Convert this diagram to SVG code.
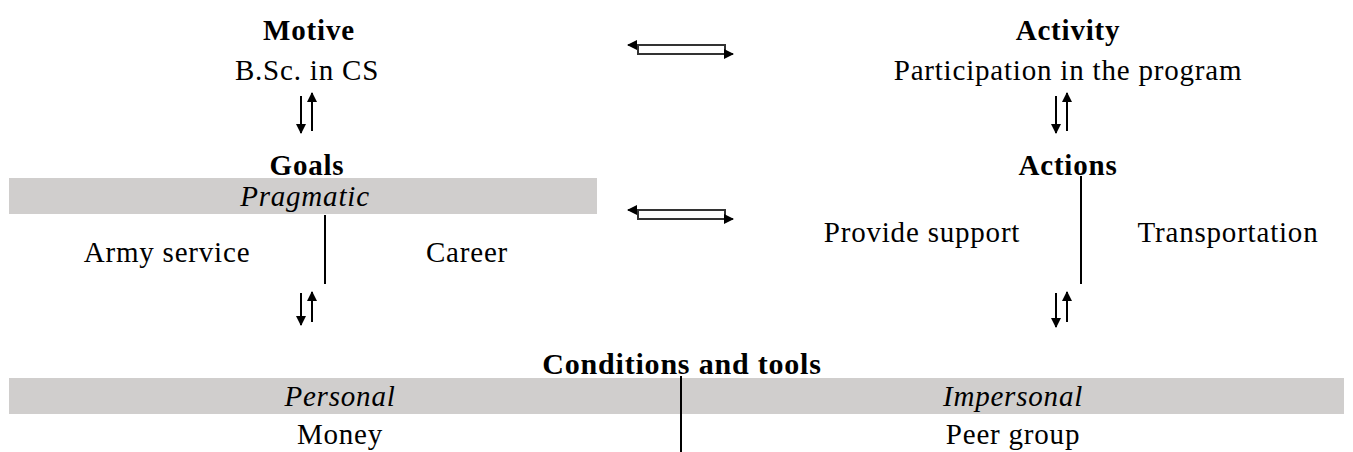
<svg xmlns="http://www.w3.org/2000/svg" width="1353" height="452" viewBox="0 0 1353 452">
<style>
text{font-family:"Liberation Serif","Times New Roman",serif;font-size:29px;letter-spacing:0.8px;fill:#000;text-anchor:middle}
.b{font-weight:bold}
.i{font-style:italic}
.bar{fill:#d0cecd}
.div{stroke:#000;stroke-width:2}
.dbl{fill:none;stroke:#333;stroke-width:2}
.ud{stroke:#000;stroke-width:2}
</style>
<defs>
<marker id="ah" viewBox="0 0 10 10" refX="9" refY="5" markerWidth="10" markerHeight="10" markerUnits="userSpaceOnUse" orient="auto"><path d="M0,0 L10,5 L0,10 z" fill="#000"/></marker>
</defs>
<rect width="1353" height="452" fill="#fff"/>
<g id="motive"><text class="b" x="309" y="40">Motive</text><text x="307" y="80">B.Sc. in CS</text></g>
<g id="activity"><text class="b" x="1068" y="40">Activity</text><text x="1068" y="80">Participation in the program</text></g>
<g id="goals"><text class="b" x="307" y="175">Goals</text>
<rect class="bar" x="9" y="178" width="588" height="36"/>
<text class="i" x="305" y="206">Pragmatic</text>
<line class="div" x1="325" y1="215" x2="325" y2="284"/>
<text x="167" y="262">Army service</text><text x="467" y="262">Career</text></g>
<g id="actions"><text class="b" x="1068" y="175">Actions</text>
<line class="div" x1="1081" y1="176" x2="1081" y2="284"/>
<text x="922" y="242">Provide support</text><text x="1228" y="242">Transportation</text></g>
<g id="conditions"><text class="b" x="682" y="374" style="font-size:30px">Conditions and tools</text>
<rect class="bar" x="9" y="378" width="1335" height="36"/>
<line class="div" x1="681" y1="376" x2="681" y2="452"/>
<text class="i" x="340" y="406">Personal</text><text class="i" x="1013" y="406">Impersonal</text>
<text x="340" y="444">Money</text><text x="1013" y="444">Peer group</text></g>
<g id="connectors">
<path class="dbl" d="M638,45 H725 V54 H638 Z"/>
<path class="dbl" d="M638,45 H628" marker-end="url(#ah)"/>
<path class="dbl" d="M725,54 H733" marker-end="url(#ah)"/>
<path class="dbl" d="M638,210 H725 V219 H638 Z"/>
<path class="dbl" d="M638,210 H628" marker-end="url(#ah)"/>
<path class="dbl" d="M725,219 H733" marker-end="url(#ah)"/>
<line class="ud" x1="301" y1="96" x2="301" y2="133" marker-end="url(#ah)"/>
<line class="ud" x1="312" y1="131" x2="312" y2="93" marker-end="url(#ah)"/>
<line class="ud" x1="301" y1="293" x2="301" y2="325" marker-end="url(#ah)"/>
<line class="ud" x1="312" y1="322" x2="312" y2="292" marker-end="url(#ah)"/>
<line class="ud" x1="1056" y1="96" x2="1056" y2="133" marker-end="url(#ah)"/>
<line class="ud" x1="1067" y1="131" x2="1067" y2="93" marker-end="url(#ah)"/>
<line class="ud" x1="1056" y1="293" x2="1056" y2="327" marker-end="url(#ah)"/>
<line class="ud" x1="1067" y1="322" x2="1067" y2="292" marker-end="url(#ah)"/>
</g>
</svg>
